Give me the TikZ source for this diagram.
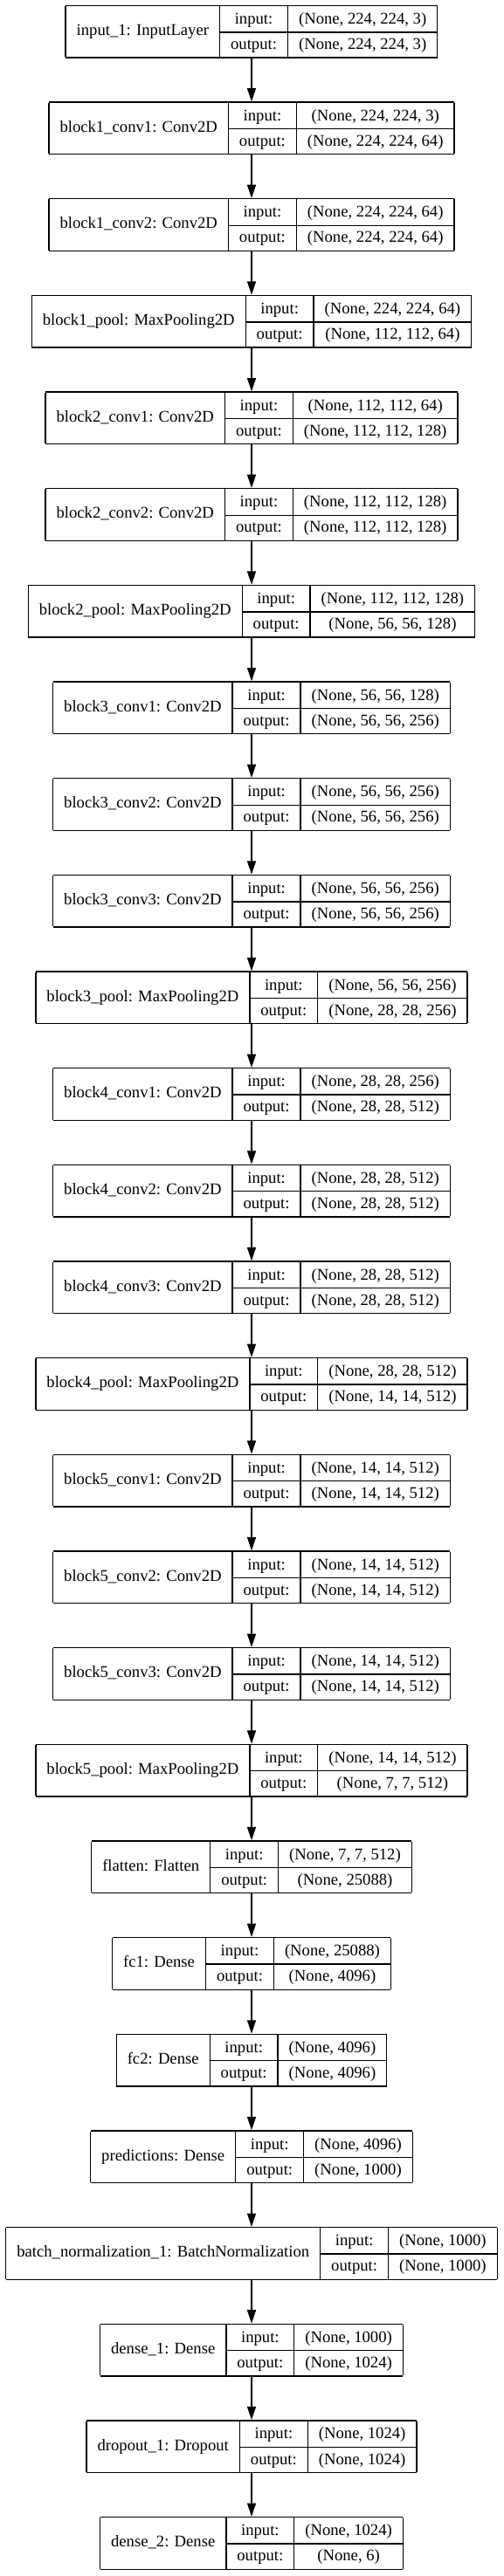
\documentclass[tikz,border=0pt]{standalone}
\usepackage{fontspec}
\setmainfont{Liberation Serif}
\usepackage{multirow}
\usetikzlibrary{positioning,arrows.meta}

\setlength{\tabcolsep}{9.4pt}
\setlength{\arrayrulewidth}{1pt}
\renewcommand{\arraystretch}{1.367}

% one layer record: name, input shape, output shape
\newcommand{\kerasrow}[3]{%
  \begin{tabular}{|c|c|c|}\hline
  \multirow{2}{*}{#1} & input: & #2\\ \cline{2-3}
   & output: & #3\\ \hline
  \end{tabular}}

\begin{document}
\begin{tikzpicture}[->,>={Triangle[length=11.5pt,width=7.5pt]},line width=1pt,
    node distance=37.25pt,
    layerbox/.style={inner sep=0pt,outer sep=0pt,font=\fontsize{14pt}{16pt}\selectfont}]

\useasboundingbox (-216pt,4.3pt) rectangle (216pt,-2208.95pt);

\node[layerbox, anchor=north] (input1) at (0,0) {\kerasrow{input\_1: InputLayer}{(None, 224, 224, 3)}{(None, 224, 224, 3)}};
\node[layerbox] (b1conv1) [below=of input1] {\kerasrow{block1\_conv1: Conv2D}{(None, 224, 224, 3)}{(None, 224, 224, 64)}};
\node[layerbox] (b1conv2) [below=of b1conv1] {\kerasrow{block1\_conv2: Conv2D}{(None, 224, 224, 64)}{(None, 224, 224, 64)}};
\node[layerbox] (b1pool) [below=of b1conv2] {\kerasrow{block1\_pool: MaxPooling2D}{(None, 224, 224, 64)}{(None, 112, 112, 64)}};
\node[layerbox] (b2conv1) [below=of b1pool] {\kerasrow{block2\_conv1: Conv2D}{(None, 112, 112, 64)}{(None, 112, 112, 128)}};
\node[layerbox] (b2conv2) [below=of b2conv1] {\kerasrow{block2\_conv2: Conv2D}{(None, 112, 112, 128)}{(None, 112, 112, 128)}};
\node[layerbox] (b2pool) [below=of b2conv2] {\kerasrow{block2\_pool: MaxPooling2D}{(None, 112, 112, 128)}{(None, 56, 56, 128)}};
\node[layerbox] (b3conv1) [below=of b2pool] {\kerasrow{block3\_conv1: Conv2D}{(None, 56, 56, 128)}{(None, 56, 56, 256)}};
\node[layerbox] (b3conv2) [below=of b3conv1] {\kerasrow{block3\_conv2: Conv2D}{(None, 56, 56, 256)}{(None, 56, 56, 256)}};
\node[layerbox] (b3conv3) [below=of b3conv2] {\kerasrow{block3\_conv3: Conv2D}{(None, 56, 56, 256)}{(None, 56, 56, 256)}};
\node[layerbox] (b3pool) [below=of b3conv3] {\kerasrow{block3\_pool: MaxPooling2D}{(None, 56, 56, 256)}{(None, 28, 28, 256)}};
\node[layerbox] (b4conv1) [below=of b3pool] {\kerasrow{block4\_conv1: Conv2D}{(None, 28, 28, 256)}{(None, 28, 28, 512)}};
\node[layerbox] (b4conv2) [below=of b4conv1] {\kerasrow{block4\_conv2: Conv2D}{(None, 28, 28, 512)}{(None, 28, 28, 512)}};
\node[layerbox] (b4conv3) [below=of b4conv2] {\kerasrow{block4\_conv3: Conv2D}{(None, 28, 28, 512)}{(None, 28, 28, 512)}};
\node[layerbox] (b4pool) [below=of b4conv3] {\kerasrow{block4\_pool: MaxPooling2D}{(None, 28, 28, 512)}{(None, 14, 14, 512)}};
\node[layerbox] (b5conv1) [below=of b4pool] {\kerasrow{block5\_conv1: Conv2D}{(None, 14, 14, 512)}{(None, 14, 14, 512)}};
\node[layerbox] (b5conv2) [below=of b5conv1] {\kerasrow{block5\_conv2: Conv2D}{(None, 14, 14, 512)}{(None, 14, 14, 512)}};
\node[layerbox] (b5conv3) [below=of b5conv2] {\kerasrow{block5\_conv3: Conv2D}{(None, 14, 14, 512)}{(None, 14, 14, 512)}};
\node[layerbox] (b5pool) [below=of b5conv3] {\kerasrow{block5\_pool: MaxPooling2D}{(None, 14, 14, 512)}{(None, 7, 7, 512)}};
\node[layerbox] (flatten) [below=of b5pool] {\kerasrow{flatten: Flatten}{(None, 7, 7, 512)}{(None, 25088)}};
\node[layerbox] (fc1) [below=of flatten] {\kerasrow{fc1: Dense}{(None, 25088)}{(None, 4096)}};
\node[layerbox] (fc2) [below=of fc1] {\kerasrow{fc2: Dense}{(None, 4096)}{(None, 4096)}};
\node[layerbox] (pred) [below=of fc2] {\kerasrow{predictions: Dense}{(None, 4096)}{(None, 1000)}};
\node[layerbox] (bnorm1) [below=of pred] {\kerasrow{batch\_normalization\_1: BatchNormalization}{(None, 1000)}{(None, 1000)}};
\node[layerbox] (dense1) [below=of bnorm1] {\kerasrow{dense\_1: Dense}{(None, 1000)}{(None, 1024)}};
\node[layerbox] (drop1) [below=of dense1] {\kerasrow{dropout\_1: Dropout}{(None, 1024)}{(None, 1024)}};
\node[layerbox] (dense2) [below=of drop1] {\kerasrow{dense\_2: Dense}{(None, 1024)}{(None, 6)}};

\path
(input1) edge (b1conv1)
(b1conv1) edge (b1conv2)
(b1conv2) edge (b1pool)
(b1pool) edge (b2conv1)
(b2conv1) edge (b2conv2)
(b2conv2) edge (b2pool)
(b2pool) edge (b3conv1)
(b3conv1) edge (b3conv2)
(b3conv2) edge (b3conv3)
(b3conv3) edge (b3pool)
(b3pool) edge (b4conv1)
(b4conv1) edge (b4conv2)
(b4conv2) edge (b4conv3)
(b4conv3) edge (b4pool)
(b4pool) edge (b5conv1)
(b5conv1) edge (b5conv2)
(b5conv2) edge (b5conv3)
(b5conv3) edge (b5pool)
(b5pool) edge (flatten)
(flatten) edge (fc1)
(fc1) edge (fc2)
(fc2) edge (pred)
(pred) edge (bnorm1)
(bnorm1) edge (dense1)
(dense1) edge (drop1)
(drop1) edge (dense2)
;

\end{tikzpicture}
\end{document}
